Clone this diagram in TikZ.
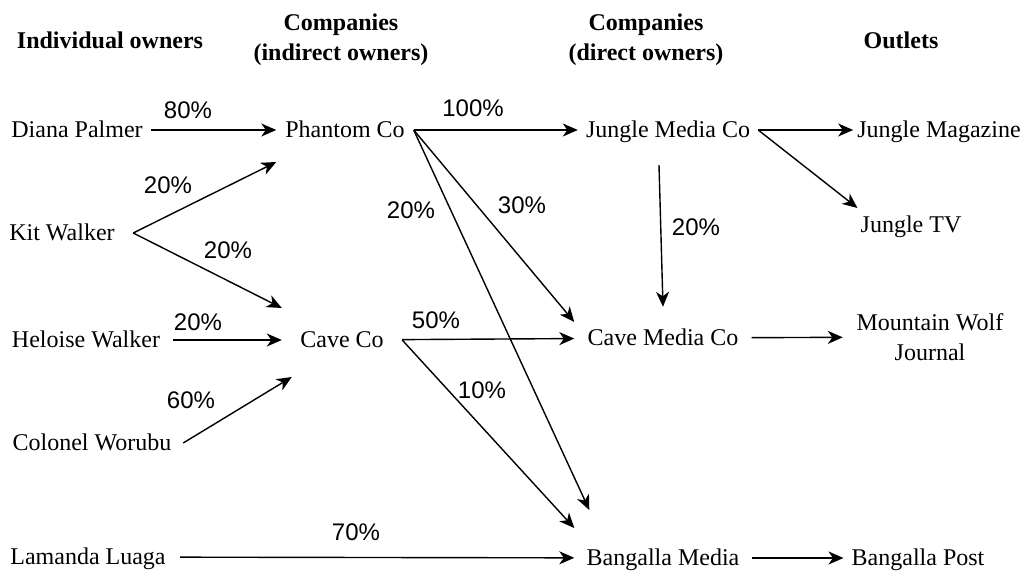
\documentclass[tikz,border=0pt]{standalone}
\usepackage{fontspec}
\setmainfont{Liberation Serif}
\newfontfamily\pctfont{Liberation Sans}
\usetikzlibrary{arrows.meta}

\begin{document}
\begin{tikzpicture}[x=1pt,y=-1pt,
  item/.style={inner xsep=8pt, inner ysep=4pt, font=\fontsize{24}{30}\selectfont},
  owner/.style={item, text height=19pt, text depth=4pt},
  heading/.style={font=\fontsize{24}{30}\selectfont\bfseries, align=center},
  pct/.style={font=\pctfont\fontsize{24}{28}\selectfont},
  share/.style={-{Stealth[length=15pt,width=13pt,inset=4.5pt]}, line width=1.4pt}]
\useasboundingbox (0,0) rectangle (1033,572);

% headings
\node[heading] (hind) at (110,40) {Individual owners};
\node[heading] (hindirect) at (341,40) {Companies\\(indirect owners)};
\node[heading] (hdirect) at (646,40) {Companies\\(direct owners)};
\node[heading] (houtlets) at (901,40) {Outlets};

% nodes
\node[owner] (diana) at (77,130) {Diana Palmer};
\node[owner, minimum width=142pt] (kit) at (62,233) {Kit Walker};
\node[owner, minimum width=174pt] (heloise) at (86,340) {Heloise Walker};
\node[owner, minimum width=182pt] (colonel) at (92,443) {Colonel Worubu};
\node[owner, minimum width=184pt] (lamanda) at (88,557) {Lamanda Luaga};

\node[owner, minimum width=137pt] (phantom) at (345,130) {Phantom Co};
\node[owner, minimum width=120pt] (cave) at (342,340) {Cave Co};

\node[owner, minimum width=177pt] (junglemedia) at (668,130) {Jungle Media Co};
\node[owner, minimum width=177pt] (cavemedia) at (663,338) {Cave Media Co};
\node[owner, minimum width=177pt] (bangallamedia) at (663,558) {Bangalla Media};

\node[owner, inner xsep=4pt] (magazine) at (939,130) {Jungle Magazine};
\node[owner] (jungletv) at (911,225) {Jungle TV};
\node[item, align=center, minimum width=174pt] (wolf) at (930,337) {Mountain Wolf\\Journal};
\node[owner] (post) at (918,558) {Bangalla Post};

% arrows
\draw[share] (diana) -- (phantom);
\draw[share] (kit.east) -- ([yshift=-32pt]phantom.west);
\draw[share] (kit.east) -- ([yshift=32pt]cave.west);
\draw[share] (heloise) -- (cave);
\draw[share] (colonel.east) -- ([xshift=10pt,yshift=-37pt]cave.west);
\draw[share] (lamanda) -- (bangallamedia);

\draw[share] (phantom) -- (junglemedia);
\draw[share] (phantom.east) -- ([yshift=16pt]cavemedia.west);
\draw[share] (phantom.east) -- ([xshift=15pt,yshift=48pt]bangallamedia.west);
\draw[share] (cave) -- (cavemedia);
\draw[share] (cave.east) -- ([yshift=30pt]bangallamedia.west);

\draw[share] ([xshift=-9pt,yshift=-19.5pt]junglemedia.south) -- ([yshift=15.5pt]cavemedia.north);
\draw[share] (junglemedia) -- (magazine);
\draw[share] (junglemedia.east) -- ([xshift=5pt,yshift=17pt]jungletv.west);
\draw[share] (cavemedia) -- (wolf);
\draw[share] (bangallamedia) -- (post);

% labels
\node[pct] (p80) at (188,110) {80\%};
\node[pct] (p20kp) at (168,185) {20\%};
\node[pct] (p20kc) at (228,250) {20\%};
\node[pct] (p20hc) at (198,322) {20\%};
\node[pct] (p60) at (191,400) {60\%};
\node[pct] (p100) at (473,108) {100\%};
\node[pct] (p20pb) at (411,210) {20\%};
\node[pct] (p30) at (522,205) {30\%};
\node[pct] (p50) at (436,320) {50\%};
\node[pct] (p10) at (482,390) {10\%};
\node[pct] (p70) at (356,532) {70\%};
\node[pct] (p20jc) at (696,227) {20\%};

\end{tikzpicture}
\end{document}
